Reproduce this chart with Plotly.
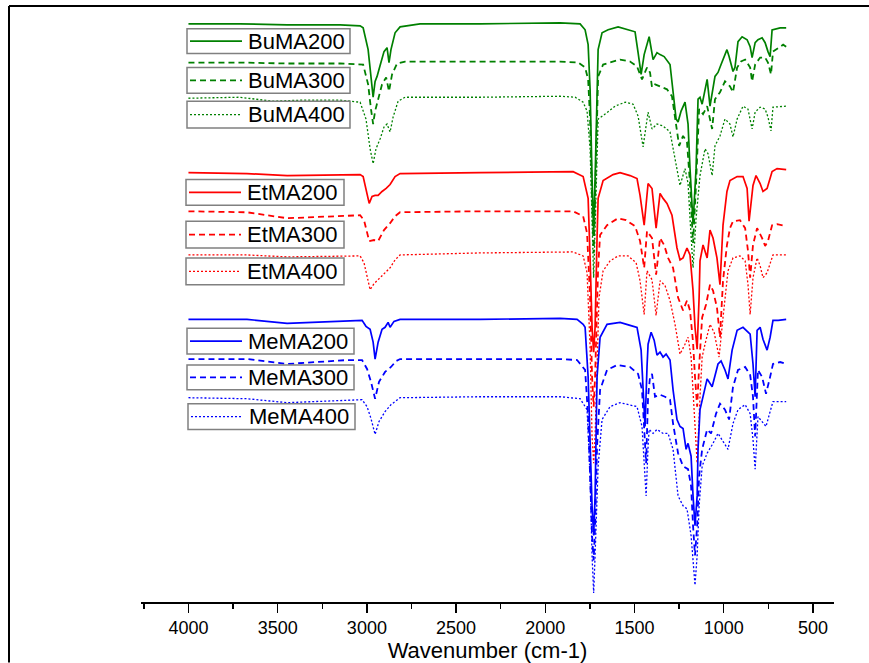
import plotly.graph_objects as go

# ---------------- data (wavenumber cm-1, offset transmittance a.u.) ----------------
buma200_wn = [4000,3711,3447,3150,3038,3021,2993,2977,2965,2954,2943,2926,2904,2887,2876,2865,2842,2814,2702,2366,1917,1805,1777,1760,1749,1738,1729,1721,1710,1704,1682,1648,1592,1536,1497,1480,1463,1446,1418,1396,1374,1357,1334,1301,1284,1267,1256,1239,1217,1200,1189,1172,1155,1144,1133,1121,1093,1077,1049,1032,1015,998,982,970,948,937,920,897,869,852,841,824,808,785,768,752,740,729,684,650]
buma200_t = [583,583,582,582,581,579,557,527,509,525,530,541,555,559,544,557,574,580,583,583,584,583,577,562,517,427,372,427,527,557,574,577,580,577,575,554,532,552,570,547,554,552,550,542,517,487,484,495,504,482,437,382,437,507,509,502,527,500,530,534,542,550,557,550,535,539,565,570,567,560,549,564,567,569,564,555,550,577,579,579]

buma300_wn = [4000,3711,3447,3150,3021,2993,2977,2965,2954,2937,2915,2892,2876,2859,2831,2786,2366,1917,1816,1777,1760,1749,1738,1729,1721,1710,1704,1676,1626,1581,1525,1486,1458,1430,1413,1402,1385,1357,1318,1290,1273,1250,1228,1206,1189,1172,1155,1138,1116,1093,1065,1049,1021,993,965,948,925,903,880,852,841,824,796,768,752,735,724,695,667,650]
buma300_t = [544,544,543,543,542,522,497,482,495,507,522,529,515,532,543,545,545,545,544,539,527,487,407,352,407,507,530,542,545,547,545,540,527,539,534,519,522,520,517,510,487,460,470,464,422,362,422,497,492,500,477,507,514,525,520,514,539,545,547,539,525,542,549,549,544,532,555,559,562,560]

buma400_wn = [4000,3711,3531,3374,3150,3038,3005,2982,2965,2949,2926,2904,2887,2870,2853,2825,2786,2366,1917,1833,1788,1766,1749,1738,1729,1721,1710,1704,1665,1609,1553,1508,1480,1452,1424,1402,1374,1340,1301,1284,1262,1245,1217,1200,1189,1172,1155,1133,1105,1088,1065,1049,1021,993,965,948,925,892,864,841,824,796,768,752,735,724,650]
buma400_t = [508,509,505,506,506,504,487,457,442,457,467,479,482,474,489,505,509,509,510,509,504,495,457,377,327,377,467,487,492,500,504,502,490,459,494,477,482,480,474,457,437,420,437,422,387,337,387,430,457,452,430,460,470,487,482,469,487,500,497,477,494,499,497,489,475,499,500]

etma200_wn = [4000,3672,3447,3111,3038,3021,3005,2987,2971,2954,2937,2915,2892,2870,2842,2814,2366,1844,1788,1760,1749,1738,1729,1721,1710,1704,1676,1620,1581,1525,1486,1469,1446,1424,1402,1379,1357,1340,1318,1290,1262,1245,1228,1206,1189,1172,1161,1149,1138,1133,1116,1093,1077,1060,1038,1021,1004,982,965,925,892,869,858,836,819,796,780,757,729,701,650]
etma200_t = [433,432,430,431,431,429,415,402,409,410,410,414,417,421,429,432,433,434,429,407,347,277,252,277,367,407,425,431,433,430,427,410,380,422,417,377,412,407,402,390,357,345,347,357,350,314,277,255,307,344,360,347,375,367,347,320,380,414,425,429,429,417,384,420,430,422,414,417,434,437,436]

etma300_wn = [4000,3672,3447,3111,3038,3016,2999,2987,2960,2937,2904,2870,2842,2814,2366,1844,1788,1766,1749,1738,1729,1721,1704,1693,1654,1592,1547,1497,1469,1446,1430,1402,1379,1357,1334,1312,1284,1256,1228,1206,1189,1172,1161,1149,1138,1121,1099,1077,1060,1038,1021,1004,982,965,948,909,880,864,852,836,813,785,768,752,729,701,650]
etma300_t = [394,393,387,390,390,385,372,364,365,364,375,382,389,393,394,394,389,372,307,227,197,227,337,370,380,387,385,379,364,337,374,367,330,367,360,347,337,307,294,304,294,262,227,197,237,287,300,320,314,297,267,324,360,377,384,385,377,354,327,360,377,367,359,364,380,381,379]

etma400_wn = [4000,3672,3447,3111,3038,3016,2999,2982,2960,2937,2904,2870,2842,2814,2366,1844,1788,1766,1749,1738,1729,1721,1699,1676,1637,1592,1536,1491,1469,1446,1430,1402,1379,1357,1329,1301,1273,1245,1217,1200,1183,1166,1149,1133,1121,1105,1077,1054,1026,1004,976,948,909,880,864,852,836,813,796,780,757,724,650]
etma400_t = [350,350,348,349,349,342,327,315,321,325,331,337,345,350,352,353,349,332,257,167,140,167,307,334,344,349,349,342,324,290,334,325,289,324,319,304,280,250,260,267,247,187,140,207,247,260,280,272,247,287,334,347,349,344,320,290,327,347,339,327,332,350,350]

mema200_wn = [4000,3672,3447,3111,3027,3005,2982,2965,2954,2937,2915,2898,2881,2870,2848,2814,2366,1917,1822,1788,1777,1760,1749,1738,1729,1721,1710,1693,1654,1581,1525,1486,1463,1452,1441,1430,1424,1407,1390,1374,1357,1340,1323,1301,1284,1262,1245,1228,1211,1200,1183,1172,1161,1149,1144,1133,1116,1093,1065,1049,1032,1015,993,976,953,925,892,852,836,824,813,796,780,757,740,724,695,650]
mema200_t = [285,285,281,284,284,278,275,262,245,262,275,277,282,277,283,285,285,286,285,280,277,227,157,97,67,107,227,267,280,282,279,277,254,217,177,237,260,272,264,249,252,247,250,244,214,184,177,175,154,160,147,107,77,107,154,194,207,225,217,227,240,243,234,225,254,274,277,270,240,207,274,277,265,254,267,284,284,285]

mema300_wn = [4000,3672,3447,3111,3027,2999,2977,2954,2932,2898,2865,2836,2814,2366,1917,1822,1777,1760,1749,1738,1729,1721,1710,1693,1654,1598,1525,1480,1458,1446,1435,1424,1413,1402,1385,1357,1329,1301,1284,1256,1228,1200,1183,1172,1161,1149,1138,1121,1093,1071,1043,1021,993,970,948,920,880,852,836,824,808,785,763,740,724,684,650]
mema300_t = [245,245,240,244,244,235,222,205,222,232,237,243,245,245,245,244,234,187,127,67,42,77,157,214,234,239,237,230,214,177,140,207,227,230,207,209,207,204,180,150,137,134,117,77,47,77,127,154,174,170,190,200,194,184,217,234,237,229,207,167,234,227,210,227,240,242,240]

mema400_wn = [4000,3672,3447,3111,3027,2999,2977,2954,2932,2898,2865,2814,2366,1917,1805,1766,1749,1738,1729,1721,1704,1682,1637,1581,1525,1486,1458,1446,1435,1424,1418,1396,1374,1340,1312,1284,1256,1228,1206,1183,1172,1161,1149,1138,1121,1093,1060,1032,1004,976,948,920,880,852,836,824,808,785,763,740,724,650]
mema400_t = [206,205,201,204,204,197,185,169,182,192,199,206,207,207,205,194,127,47,9,47,137,184,197,201,199,197,177,142,107,157,174,170,174,170,170,154,107,97,94,67,37,17,47,97,137,150,160,170,162,154,180,194,199,190,164,134,187,182,177,192,202,202]

series_names = ["BuMA200","BuMA300","BuMA400","EtMA200","EtMA300","EtMA400","MeMA200","MeMA300","MeMA400"]
series_wn = [buma200_wn,buma300_wn,buma400_wn,etma200_wn,etma300_wn,etma400_wn,mema200_wn,mema300_wn,mema400_wn]
series_t = [buma200_t,buma300_t,buma400_t,etma200_t,etma300_t,etma400_t,mema200_t,mema300_t,mema400_t]
x_ticks = [4000,3500,3000,2500,2000,1500,1000,500]
x_minor = [4250,3750,3250,2750,2250,1750,1250,750]
x_title = "Wavenumber (cm-1)"

# ---------------- styles ----------------
colors = ["#008000"]*3 + ["#ff0000"]*3 + ["#0000ff"]*3
dashes = ["solid","6px,4px","2px,2px"]*3
widths = [1.7,1.8,1.3]*3

# body margin is removed by post_script, so the figure fills the 869x663 page
W, H = 869, 663
L, R, T, B = 141, 35, 7, 56
PW, PH = W - L - R, H - T - B

def px(X):   # page pixel x -> paper
    return (X - L) / PW

def py(Y):   # page pixel y -> paper
    return (H - B - Y) / PH

fig = go.Figure()
for i, name in enumerate(series_names):
    fig.add_trace(go.Scatter(
        x=series_wn[i], y=series_t[i], mode="lines", name=name,
        line=dict(color=colors[i], width=widths[i], dash=dashes[i]),
        showlegend=False))

# legend boxes (page pixel layout)
boxes = [(187,29,350,54),(187,68,350,94),(187,102,350,129),
         (186,181,344,207),(186,223,344,250),(186,260,344,287),
         (187,331,354,357),(187,368,354,393),(188,407,355,433)]
shapes = []
annotations = []
for i, (x0, y0, x1, y1) in enumerate(boxes):
    shapes.append(dict(type="rect", xref="paper", yref="paper",
                       x0=px(x0), x1=px(x1), y0=py(y1), y1=py(y0),
                       line=dict(color="#808080", width=1.5), fillcolor="white", layer="above"))
    yc = (y0 + y1) / 2
    shapes.append(dict(type="line", xref="paper", yref="paper",
                       x0=px(x0 + 3), x1=px(x0 + 55), y0=py(yc), y1=py(yc),
                       line=dict(color=colors[i], width=widths[i], dash=dashes[i]), layer="above"))
    annotations.append(dict(xref="paper", yref="paper", x=px(x0 + 59), y=py(yc),
                            xanchor="left", yanchor="middle", showarrow=False,
                            text=series_names[i],
                            font=dict(family="Arial, Liberation Sans, sans-serif", size=22, color="black")))

# outer frame (top & left edges)
shapes.append(dict(type="line", xref="paper", yref="paper", x0=px(9), x1=px(W + 5),
                   y0=py(6), y1=py(6), line=dict(color="black", width=2)))
shapes.append(dict(type="line", xref="paper", yref="paper", x0=px(9), x1=px(9),
                   y0=py(6), y1=py(H + 5), line=dict(color="black", width=2)))

fig.update_layout(
    width=W, height=H, margin=dict(l=L, r=R, t=T, b=B, pad=0),
    paper_bgcolor="white", plot_bgcolor="white",
    font=dict(family="Arial, Liberation Sans, sans-serif", color="black"),
    shapes=shapes, annotations=annotations,
    xaxis=dict(range=[4266, 382], tickvals=x_ticks, ticks="outside", ticklen=9, tickwidth=1.5,
               tickcolor="black", showline=True, linecolor="black", linewidth=1.5,
               showgrid=False, zeroline=False, tickfont=dict(size=18),
               ticklabelstandoff=0,
               minor=dict(tickvals=x_minor, ticks="outside",
                          ticklen=5, tickwidth=1.5, tickcolor="black", showgrid=False),
               title=dict(text=x_title, font=dict(size=22), standoff=3)),
    yaxis=dict(range=[0, 600], visible=False),
)

fig.write_html("out.html",
               config={"displayModeBar": False, "staticPlot": True},
               post_script="document.body.style.margin='0px';document.documentElement.style.overflow='hidden';")
